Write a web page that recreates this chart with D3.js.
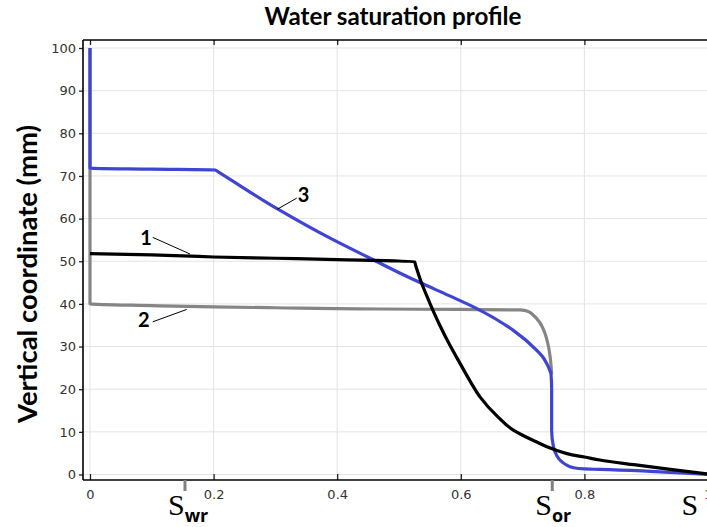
<!DOCTYPE html>
<html><head><meta charset="utf-8">
<script src="https://cdn.jsdelivr.net/npm/d3@7"></script>
<style>
html,body{margin:0;padding:0;background:#fff;overflow:hidden;}
svg{display:block;}
</style></head>
<body>
<svg id="chart" width="707" height="527"></svg>
<script>
// ---- data (S = water saturation, z = vertical coordinate in mm) ----
const xTicks = [0, 0.2, 0.4, 0.6, 0.8, 1.0];
const xTickLabels = ["0", "0.2", "0.4", "0.6", "0.8", "1"];
const yTicks = [0, 10, 20, 30, 40, 50, 60, 70, 80, 90, 100];

const curve1S = [0, 0.1, 0.2, 0.3, 0.4, 0.525, 0.527, 0.535, 0.549, 0.566, 0.582, 0.599, 0.615, 0.631, 0.66, 0.685, 0.70, 0.72, 0.75, 0.78, 0.80, 0.825, 0.88, 0.939, 1.0];
const curve1Z = [51.8, 51.5, 51.0, 50.7, 50.4, 49.9, 49.0, 45.5, 40.5, 35.0, 30.4, 26.0, 21.9, 18.2, 13.5, 10.4, 9.2, 7.8, 5.9, 4.6, 4.1, 3.4, 2.3, 1.2, 0.1];

const curve2S = [0, 0, 0.1, 0.2, 0.3, 0.47, 0.6, 0.696, 0.708, 0.717, 0.727, 0.734, 0.742, 0.745, 0.747];
const curve2Z = [100, 40.0, 39.6, 39.3, 39.1, 38.8, 38.7, 38.6, 38.3, 37.4, 35.8, 33.9, 29.9, 27.0, 23.5];

const curve3S = [0, 0, 0.1, 0.2024, 0.208, 0.302, 0.394, 0.459, 0.502, 0.534, 0.58, 0.626, 0.685, 0.723, 0.733, 0.739, 0.743, 0.746, 0.747, 0.747, 0.750, 0.755, 0.761, 0.77, 0.782, 0.80, 0.825, 0.9, 1.0];
const curve3Z = [100, 71.8, 71.6, 71.4, 70.9, 62.4, 55.0, 50.3, 47.2, 45.0, 42.0, 38.9, 33.8, 29.1, 27.5, 26.0, 24.8, 23.5, 20.0, 10.4, 6.5, 4.5, 3.3, 2.3, 1.6, 1.3, 1.2, 0.8, 0.0];

const curveLabels = ["1", "2", "3"];
const labelS = [0.0906, 0.0869, 0.3455];
const labelZ = [53.8, 34.65, 64.0];
const leaderFromS = [0.1015, 0.1015, 0.3345];
const leaderFromZ = [55.6, 35.8, 64.8];
const leaderToS = [0.1618, 0.1565, 0.3031];
const leaderToZ = [51.7, 38.7, 62.2];

const markerS = [0.1537, 0.748];
const markerSub = ["wr", "or"];

// ---- drawing ----
const svg = d3.select("#chart");
const pLeft = 83, pTop = 40, pBottom = 480;
const x = d3.scaleLinear().domain([0, 1]).range([90, 708]);
const y = d3.scaleLinear().domain([0, 100]).range([474.5, 48]);

// fit a text element to a target width
function fitWidth(sel, target) {
  const fs = parseFloat(sel.style("font-size"));
  const w = sel.node().getComputedTextLength();
  if (w > 0) sel.style("font-size", (fs * target / w) + "px");
}

// grid
const grid = svg.append("g").attr("stroke", "#e3e3e3").attr("stroke-width", 1);
grid.selectAll("line.v").data(xTicks).join("line").attr("class", "v")
  .attr("x1", d => x(d)).attr("x2", d => x(d)).attr("y1", pTop).attr("y2", pBottom);
grid.selectAll("line.h").data(yTicks).join("line").attr("class", "h")
  .attr("x1", pLeft).attr("x2", 707).attr("y1", d => y(d)).attr("y2", d => y(d));

// axes
const axisFont = "'DejaVu Sans', sans-serif";
const gL = svg.append("g").attr("transform", `translate(${pLeft},0)`)
  .call(d3.axisLeft(y).tickValues(yTicks).tickSize(4).tickSizeOuter(0).tickPadding(3));
gL.select(".domain").remove();
const gB = svg.append("g").attr("transform", `translate(0,${pBottom})`)
  .call(d3.axisBottom(x).tickValues(xTicks).tickFormat((d, i) => xTickLabels[i]).tickSize(-6).tickSizeOuter(0).tickPadding(10));
gB.select(".domain").remove();
const gT = svg.append("g").attr("transform", `translate(0,${pTop})`)
  .call(d3.axisTop(x).tickValues(xTicks).tickFormat("").tickSize(-5).tickSizeOuter(0));
gT.select(".domain").remove();
[gL, gB, gT].forEach(g => {
  g.selectAll("text").style("font-family", axisFont).style("font-size", "13px").attr("fill", "#333");
  g.selectAll(".tick line").attr("stroke", "#222").attr("stroke-width", 1.3);
});
// frame lines
svg.append("line").attr("x1", pLeft).attr("x2", pLeft).attr("y1", pTop).attr("y2", pBottom).attr("stroke", "#000").attr("stroke-width", 1.6);
svg.append("line").attr("x1", pLeft).attr("x2", 707).attr("y1", pTop).attr("y2", pTop).attr("stroke", "#000").attr("stroke-width", 1.6);
svg.append("line").attr("x1", pLeft).attr("x2", 707).attr("y1", pBottom).attr("y2", pBottom).attr("stroke", "#000").attr("stroke-width", 1.6);

// curves
const line = d3.line().x(d => x(d[0])).y(d => y(d[1])).curve(d3.curveMonotoneY);
const mk = (S, Z) => S.map((s, i) => [s, Z[i]]);
svg.append("path").datum(mk(curve2S, curve2Z)).attr("d", line)
  .attr("fill", "none").attr("stroke", "#858585").attr("stroke-width", 3.2).attr("stroke-linejoin", "round");
svg.append("path").datum(mk(curve3S, curve3Z)).attr("d", line)
  .attr("fill", "none").attr("stroke", "#3f45d2").attr("stroke-width", 3.2).attr("stroke-linejoin", "round");
svg.append("path").datum(mk(curve1S, curve1Z)).attr("d", line)
  .attr("fill", "none").attr("stroke", "#000").attr("stroke-width", 3.2).attr("stroke-linejoin", "round");

// curve labels + leaders
curveLabels.forEach((t, i) => {
  svg.append("line")
    .attr("x1", x(leaderFromS[i])).attr("y1", y(leaderFromZ[i]))
    .attr("x2", x(leaderToS[i])).attr("y2", y(leaderToZ[i]))
    .attr("stroke", "#000").attr("stroke-width", 1);
  svg.append("text").attr("x", x(labelS[i])).attr("y", y(labelZ[i]))
    .attr("text-anchor", "middle").style("font-family", "Lato, 'Open Sans', sans-serif")
    .style("font-weight", "bold").style("font-size", "20px").attr("fill", "#000").text(t);
});

// S_wr, S_or markers
markerS.forEach((s, i) => {
  svg.append("line").attr("x1", x(s)).attr("x2", x(s)).attr("y1", pBottom).attr("y2", pBottom + 11)
    .attr("stroke", "#808080").attr("stroke-width", 3);
  const t = svg.append("text").attr("x", x(s) - 17).attr("y", 515).attr("fill", "#000");
  t.append("tspan").style("font-family", "'Liberation Serif', serif").style("font-size", "30px").text("S");
  t.append("tspan").style("font-family", "'Open Sans', sans-serif").style("font-weight", "bold")
    .style("font-size", "18px").attr("dy", 7).text(markerSub[i]);
});
svg.append("text").attr("x", 681.5).attr("y", 515).style("font-family", "'Liberation Serif', serif")
  .style("font-size", "30px").attr("fill", "#000").text("S");

// title
const title = svg.append("text").attr("x", 393).attr("y", 25).attr("text-anchor", "middle")
  .style("font-family", "Lato, 'Open Sans', sans-serif").style("font-weight", "bold").style("font-size", "20px")
  .attr("fill", "#000").text("Water saturation profile");
fitWidth(title, 257);

// y-axis title
const ytitle = svg.append("text").attr("transform", "translate(37,274) rotate(-90)").attr("text-anchor", "middle")
  .style("font-family", "Lato, 'Open Sans', sans-serif").style("font-weight", "bold").style("font-size", "22px")
  .attr("fill", "#000").text("Vertical coordinate (mm)");
fitWidth(ytitle, 298);
</script>
</body></html>
